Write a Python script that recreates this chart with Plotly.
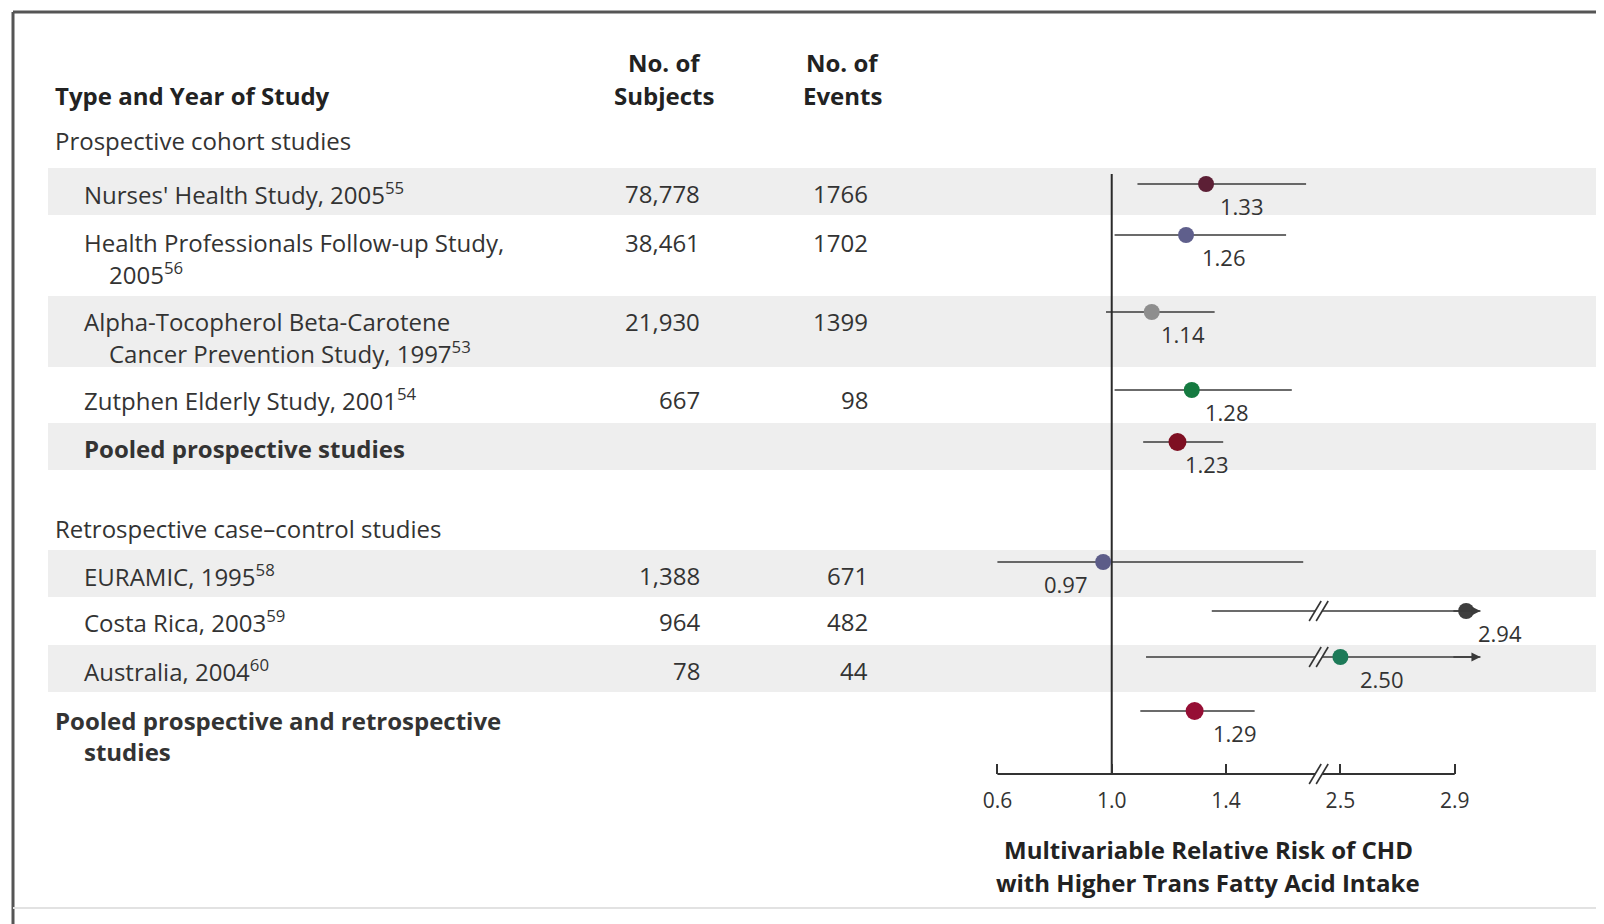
import plotly.graph_objects as go

# ---------------- data ----------------
study_lines = [
    ["Nurses' Health Study, 2005<sup>55</sup>"],
    ["Health Professionals Follow-up Study,", "2005<sup>56</sup>"],
    ["Alpha-Tocopherol Beta-Carotene", "Cancer Prevention Study, 1997<sup>53</sup>"],
    ["Zutphen Elderly Study, 2001<sup>54</sup>"],
    ["<b>Pooled prospective studies</b>"],
    ["EURAMIC, 1995<sup>58</sup>"],
    ["Costa Rica, 2003<sup>59</sup>"],
    ["Australia, 2004<sup>60</sup>"],
    ["<b>Pooled prospective and retrospective</b>", "<b>studies</b>"],
]
subjects = ["78,778", "38,461", "21,930", "667", "", "1,388", "964", "78", ""]
events = ["1766", "1702", "1399", "98", "", "671", "482", "44", ""]
rr = [1.33, 1.26, 1.14, 1.28, 1.23, 0.97, 2.94, 2.50, 1.29]
rr_text = ["1.33", "1.26", "1.14", "1.28", "1.23", "0.97", "2.94", "2.50", "1.29"]
ci_low = [1.09, 1.01, 0.98, 1.01, 1.11, 0.60, 1.35, 1.12, 1.10]
ci_high = [1.68, 1.61, 1.36, 1.63, 1.39, 1.67, 2.99, 2.99, 1.50]
ci_open_high = [False, False, False, False, False, False, True, True, False]
section_titles = ["Prospective cohort studies", "Retrospective case\u2013control studies"]
header_study = "Type and Year of Study"
header_subjects = ["No. of", "Subjects"]
header_events = ["No. of", "Events"]
tick_values = [0.6, 1.0, 1.4, 2.5, 2.9]
tick_text = ["0.6", "1.0", "1.4", "2.5", "2.9"]
axis_title = ["Multivariable Relative Risk of CHD", "with Higher Trans Fatty Acid Intake"]

# ---------------- layout / style ----------------
W, H = 1604, 924
OFF = 8  # page body margin compensation (screen px)
FONT = "Open Sans"
TXT = "#333333"
marker_colors = ["#5c1f35", "#5f5f8c", "#8e8e8e", "#157a40", "#7e0f22",
                 "#5c5c88", "#3e3e3e", "#1d7a58", "#960f35"]
marker_sizes = [16, 16, 16, 16, 18, 16, 16, 16, 18]
ROW_TEXT_Y = [193, 242, 321, 399, 448, 575, 621, 670, 720]
ROW_MARK_Y = [184, 235, 312, 390, 442, 562, 611, 657, 711]
ROW_INDENT = [1, 1, 1, 1, 1, 1, 1, 1, 0]
LINE_STEP = 31
SECTION_Y = [140, 528]
HEADER_Y = [62, 95]
X_LEVEL = [53, 82, 107]
X_SUBJ_R, X_EVT_R = 702, 870
X_SUBJ_C, X_EVT_C = 664, 842
AXIS_Y = 774
REF_TOP = 174
BAND_ROWS = [0, 2, 4, 5, 7]
PX_PER_UNIT = 114.33
X0_PX = 997.4
BREAK_U = 2.81
LABEL_DX = [36, 38, 31, 35, 30, -37, 34, 42, 40]
LABEL_DY = 22


def to_u(v):
    return (v - 0.6) / 0.4 if v < 2.0 else 3 + (v - 2.5) / 0.4


def px(xp):
    return (xp - OFF) / W


fig = go.Figure()

# confidence interval lines
for i in range(len(rr)):
    y = ROW_MARK_Y[i]
    fig.add_trace(go.Scatter(x=[to_u(ci_low[i]), to_u(ci_high[i])], y=[y, y], mode="lines",
                             line=dict(color="#3a3a3a", width=1.7), hoverinfo="skip", showlegend=False))

# reference line at RR = 1.0
fig.add_trace(go.Scatter(x=[to_u(1.0), to_u(1.0)], y=[REF_TOP, AXIS_Y], mode="lines",
                         line=dict(color="#2a2a2a", width=2), hoverinfo="skip", showlegend=False))
# axis line
fig.add_trace(go.Scatter(x=[to_u(tick_values[0]), to_u(tick_values[-1])], y=[AXIS_Y, AXIS_Y], mode="lines",
                         line=dict(color="#333333", width=2), hoverinfo="skip", showlegend=False))

# break marks
break_rows = [ROW_MARK_Y[i] for i in range(len(rr)) if ci_open_high[i]] + [AXIS_Y]
du = 6 / PX_PER_UNIT
gap = 3.5 / PX_PER_UNIT
gx, gy, sx, sy = [], [], [], []
for y in break_rows:
    gx += [BREAK_U - gap, BREAK_U + gap, None]
    gy += [y, y, None]
    for off in (-gap, gap):
        sx += [BREAK_U + off - du, BREAK_U + off + du, None]
        sy += [y + 10, y - 10, None]
fig.add_trace(go.Scatter(x=gx, y=gy, mode="lines", line=dict(color="white", width=5),
                         hoverinfo="skip", showlegend=False))
fig.add_trace(go.Scatter(x=sx, y=sy, mode="lines", line=dict(color="#333333", width=1.6),
                         hoverinfo="skip", showlegend=False))

# point estimates
fig.add_trace(go.Scatter(x=[to_u(v) for v in rr], y=ROW_MARK_Y, mode="markers",
                         marker=dict(color=marker_colors, size=marker_sizes, opacity=1, line=dict(width=0)),
                         hoverinfo="skip", showlegend=False))

ann = []
# arrowheads for open upper limits
for i in range(len(rr)):
    if ci_open_high[i]:
        ann.append(dict(x=to_u(ci_high[i]), y=ROW_MARK_Y[i], ax=to_u(ci_high[i]) - 0.25, ay=ROW_MARK_Y[i],
                        xref="x", yref="y", axref="x", ayref="y", text="", showarrow=True,
                        arrowhead=2, arrowsize=1.2, arrowwidth=1.5, arrowcolor="#3a3a3a"))
# value labels
for i in range(len(rr)):
    ann.append(dict(x=to_u(rr[i]), y=ROW_MARK_Y[i], xref="x", yref="y", text=rr_text[i], showarrow=False,
                    xshift=LABEL_DX[i], yshift=-LABEL_DY, font=dict(family=FONT, size=22, color=TXT)))


# table text
def text(xp, y, s, anchor="left", size=24, color=TXT):
    ann.append(dict(x=px(xp), y=y, xref="paper", yref="y", text=s, showarrow=False, xanchor=anchor,
                    yanchor="middle", font=dict(family=FONT, size=size, color=color)))


text(X_LEVEL[0], HEADER_Y[1], "<b>" + header_study + "</b>", color="#222222")
for k in range(2):
    text(X_SUBJ_C, HEADER_Y[k], "<b>" + header_subjects[k] + "</b>", anchor="center", color="#222222")
    text(X_EVT_C, HEADER_Y[k], "<b>" + header_events[k] + "</b>", anchor="center", color="#222222")
for s, y in zip(section_titles, SECTION_Y):
    text(X_LEVEL[0], y, s)
for i, lines in enumerate(study_lines):
    for k, line in enumerate(lines):
        lvl = ROW_INDENT[i] + (1 if k > 0 else 0)
        text(X_LEVEL[lvl], ROW_TEXT_Y[i] + k * LINE_STEP, line)
    if subjects[i]:
        text(X_SUBJ_R, ROW_TEXT_Y[i], subjects[i], anchor="right")
        text(X_EVT_R, ROW_TEXT_Y[i], events[i], anchor="right")

# axis title
for k, line in enumerate(axis_title):
    ann.append(dict(x=px(1208), y=849 + k * 33, xref="paper", yref="y", text="<b>" + line + "</b>",
                    showarrow=False, xanchor="center", yanchor="middle",
                    font=dict(family=FONT, size=24, color="#222222")))

shapes = []
for i in BAND_ROWS:
    n = len(study_lines[i])
    shapes.append(dict(type="rect", xref="paper", yref="y", x0=px(48), x1=1,
                       y0=ROW_TEXT_Y[i] - 25, y1=ROW_TEXT_Y[i] + 22 + (n - 1) * 24,
                       fillcolor="#eeeeee", line=dict(width=0), layer="below"))
# frame
shapes.append(dict(type="line", xref="paper", yref="y", x0=px(13), x1=1, y0=12, y1=12,
                   line=dict(color="#555555", width=3)))
shapes.append(dict(type="line", xref="paper", yref="y", x0=px(13), x1=px(13), y0=12, y1=H + OFF,
                   line=dict(color="#555555", width=3)))
shapes.append(dict(type="line", xref="paper", yref="y", x0=px(13), x1=1, y0=908, y1=908,
                   line=dict(color="#e2e2e2", width=2)))

x_min = (OFF - X0_PX) / PX_PER_UNIT
fig.update_layout(
    width=W, height=H, margin=dict(l=0, r=0, t=0, b=0),
    paper_bgcolor="white", plot_bgcolor="white",
    annotations=ann, shapes=shapes,
    xaxis=dict(range=[x_min, x_min + W / PX_PER_UNIT], domain=[0, 1],
               anchor="free", position=(H + OFF - AXIS_Y) / H,
               tickvals=[to_u(v) for v in tick_values], ticktext=tick_text,
               ticks="inside", ticklen=10, tickwidth=1.6, tickcolor="#333333",
               tickfont=dict(family=FONT, size=21, color=TXT), ticklabelstandoff=12,
               showgrid=False, zeroline=False, showline=False),
    yaxis=dict(range=[H + OFF, OFF], domain=[0, 1], visible=False, showgrid=False, zeroline=False),
)

fig.write_html("out.html")
